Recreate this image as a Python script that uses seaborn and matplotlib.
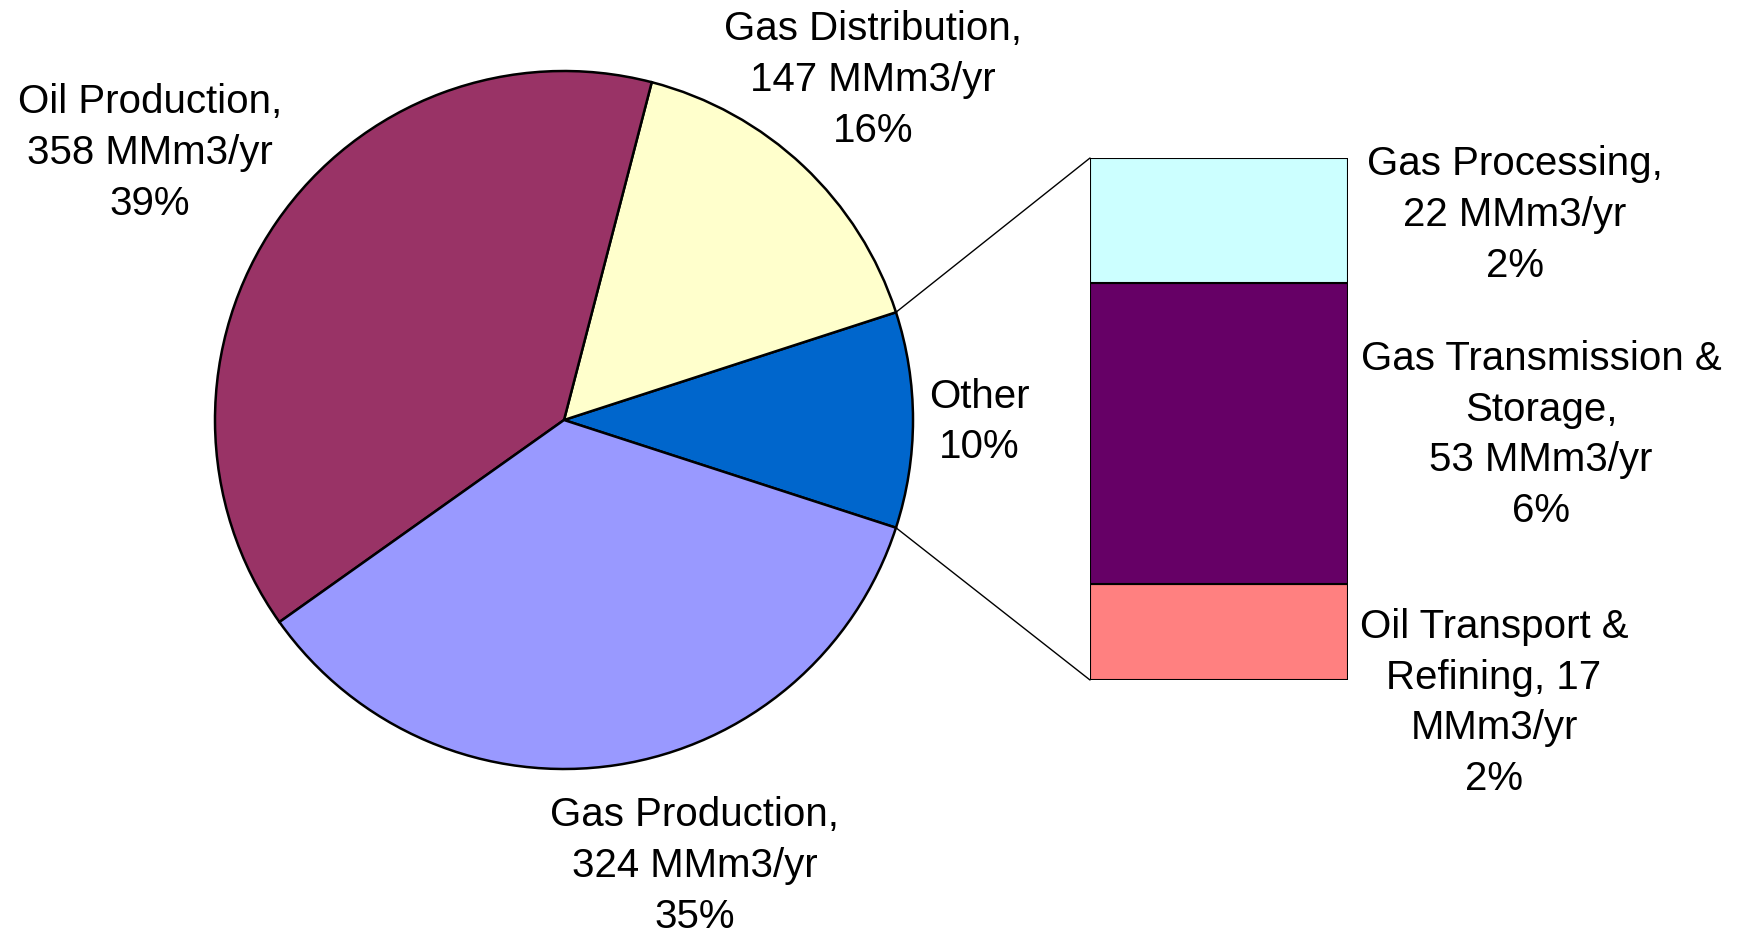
import matplotlib
matplotlib.use("Agg")
import matplotlib.pyplot as plt
from matplotlib.patches import ConnectionPatch
import numpy as np
import seaborn as sns

# pie data (counterclockwise, starting with the exploded "Other" slice)
pie_names = ['Other', 'Gas Distribution', 'Oil Production', 'Gas Production']
pie_colors = ['#0066CC', '#FFFFCC', '#993366', '#9999FF']

# breakdown of "Other" (bottom to top in the bar)
bar_names = ['Oil Transport & Refining', 'Gas Transmission & Storage', 'Gas Processing']
bar_values = [17, 53, 22]
bar_colors = ['#FF8080', '#660066', '#CCFFFF']

other_total = sum(bar_values)
pie_values = [other_total, 147, 358, 324]
total = sum(pie_values)

def pct(v):
    return '%d%%' % round(v / total * 100)

pie_texts = [
    'Other\n' + pct(pie_values[0]),
    'Gas Distribution,\n%d MMm3/yr\n%s' % (pie_values[1], pct(pie_values[1])),
    'Oil Production,\n%d MMm3/yr\n%s' % (pie_values[2], pct(pie_values[2])),
    'Gas Production,\n%d MMm3/yr\n%s' % (pie_values[3], pct(pie_values[3])),
]
bar_texts = [
    'Oil Transport &\nRefining, %d\nMMm3/yr\n%s' % (bar_values[0], pct(bar_values[0])),
    'Gas Transmission &\nStorage,\n%d MMm3/yr\n%s' % (bar_values[1], pct(bar_values[1])),
    'Gas Processing,\n%d MMm3/yr\n%s' % (bar_values[2], pct(bar_values[2])),
]

sns.set_style('white')
plt.rcParams['font.family'] = ['Liberation Sans', 'DejaVu Sans']
plt.rcParams['text.color'] = 'black'

W, H = 1740, 935
fig = plt.figure(figsize=(W / 100, H / 100), dpi=100)

# ---- pie ----
cx, cy, r = 564, 420, 349
ax_pie = fig.add_axes([(cx - r) / W, (H - cy - r) / H, 2 * r / W, 2 * r / H])
start = -180.0 * pie_values[0] / total
wedges, _ = ax_pie.pie(pie_values, colors=pie_colors, startangle=start, counterclock=True,
                       radius=1, wedgeprops=dict(edgecolor='black', linewidth=1.8))
ax_pie.set_xlim(-1, 1)
ax_pie.set_ylim(-1, 1)
ax_pie.set_aspect('auto')
ax_pie.axis('off')

# ---- stacked bar ----
bx0, bx1, by0, by1 = 1090, 1348, 158, 680
ax_bar = fig.add_axes([bx0 / W, (H - by1) / H, (bx1 - bx0) / W, (by1 - by0) / H])
bottom = 0
for v, c in zip(bar_values, bar_colors):
    ax_bar.bar(0, v, bottom=bottom, width=1, color=c, edgecolor='black', linewidth=1.5)
    bottom += v
ax_bar.set_xlim(-0.5, 0.5)
ax_bar.set_ylim(0, other_total)
ax_bar.axis('off')

# ---- connection lines ----
half = np.radians(180.0 * pie_values[0] / total)
for sgn, ybar in [(1, other_total), (-1, 0)]:
    con = ConnectionPatch(xyA=(np.cos(half), sgn * np.sin(half)), coordsA=ax_pie.transData,
                          xyB=(-0.5, ybar), coordsB=ax_bar.transData,
                          color='black', linewidth=1.0)
    fig.add_artist(con)

# ---- labels ----
fs = 29
ls = 1.42
pie_label_pos = [(979, 422), (873, 80), (150, 153), (695, 866)]
for t, (x, y) in zip(pie_texts, pie_label_pos):
    fig.text(x / W, 1 - y / H, t, ha='center', va='center', fontsize=fs,
             multialignment='center', linespacing=ls, color='black')

bar_label_pos = [(1494, 703), (1541, 435), (1515, 215)]
for t, (x, y) in zip(bar_texts, bar_label_pos):
    fig.text(x / W, 1 - y / H, t, ha='center', va='center', fontsize=fs,
             multialignment='center', linespacing=ls, color='black')

plt.savefig('out.png', dpi=100, facecolor='white')
